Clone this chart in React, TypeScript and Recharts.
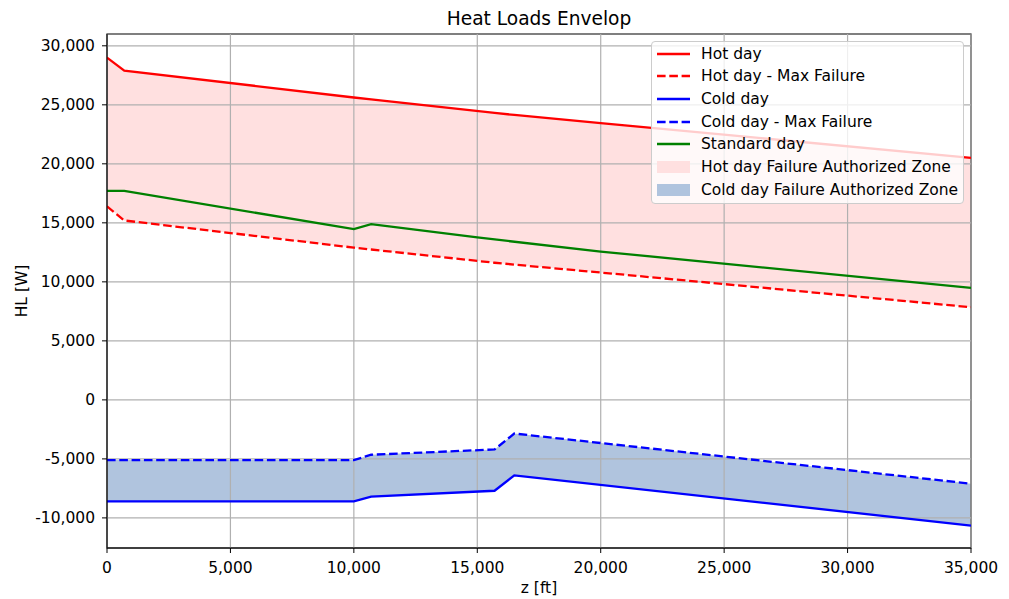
import React from 'react'
import {
  Area,
  ComposedChart,
  Line,
  ReferenceArea,
  ReferenceLine,
  XAxis,
  YAxis,
} from 'recharts'

// altitude breakpoints [ft] and heat loads [W] per envelope
const hotZ = [0, 700, 10000, 10700, 15700, 16500, 20000, 35000]
const hotDay = [29000, 27900, 25620, 25460, 24310, 24140, 23450, 20500]
const hotDayMaxFailure = [16400, 15200, 12900, 12740, 11620, 11460, 10790, 7850]

const coldZ = [0, 10000, 10700, 15700, 16500, 35000]
const coldDay = [-8600, -8600, -8200, -7700, -6400, -10650]
const coldDayMaxFailure = [-5100, -5100, -4650, -4200, -2850, -7100]

const standardZ = [0, 700, 10000, 10700, 15000, 20000, 35000]
const standardDay = [17700, 17700, 14470, 14890, 13760, 12570, 9490]

const xTicks = [0, 5000, 10000, 15000, 20000, 25000, 30000, 35000]
const yTicks = [-10000, -5000, 0, 5000, 10000, 15000, 20000, 25000, 30000]
const xDomain: [number, number] = [0, 35000]
const yDomain: [number, number] = [-12550, 31000]

const hotData = hotZ.map((z, i) => ({ z, hot: hotDay[i], hotMax: hotDayMaxFailure[i] }))
const coldData = coldZ.map((z, i) => ({ z, cold: coldDay[i], coldMax: coldDayMaxFailure[i] }))
const standardData = standardZ.map((z, i) => ({ z, std: standardDay[i] }))

const FONT = '"DejaVu Sans", sans-serif'
const FS = 15.5
const LW = 2.3
const DASH = '8.6 3.7'
const HOT_FILL = '#ffe0e0'
const COLD_FILL = '#b0c4de'

const legendItems = [
  { label: 'Hot day', color: '#ff0000', kind: 'line' },
  { label: 'Hot day - Max Failure', color: '#ff0000', kind: 'dash' },
  { label: 'Cold day', color: '#0000ff', kind: 'line' },
  { label: 'Cold day - Max Failure', color: '#0000ff', kind: 'dash' },
  { label: 'Standard day', color: '#008000', kind: 'line' },
  { label: 'Hot day Failure Authorized Zone', color: HOT_FILL, kind: 'patch' },
  { label: 'Cold day Failure Authorized Zone', color: COLD_FILL, kind: 'patch' },
]

const fmt = (v: number) => v.toLocaleString('en-US')

function ChartLegend() {
  return (
    <div
      style={{
        position: 'absolute',
        left: 651,
        top: 41,
        width: 313,
        height: 163,
        background: 'rgba(255,255,255,0.8)',
        border: '1px solid #cccccc',
        borderRadius: 4,
        boxSizing: 'border-box',
        fontFamily: FONT,
        fontSize: FS,
        color: '#000',
      }}
    >
      {legendItems.map((item, i) => (
        <div
          key={item.label}
          style={{
            position: 'absolute',
            left: 0,
            top: 0.5 + i * 22.7,
            height: 22,
            display: 'flex',
            alignItems: 'center',
            whiteSpace: 'nowrap',
          }}
        >
          <svg width={34} height={22} style={{ marginLeft: 5, marginRight: 10 }}>
            {item.kind === 'patch' ? (
              <rect x={0} y={5} width={33} height={12} fill={item.color} />
            ) : (
              <line
                x1={0}
                x2={33}
                y1={11}
                y2={11}
                stroke={item.color}
                strokeWidth={LW}
                strokeDasharray={item.kind === 'dash' ? DASH : undefined}
              />
            )}
          </svg>
          <span>{item.label}</span>
        </div>
      ))}
    </div>
  )
}

export default function App(): React.ReactElement {
  return (
    <div style={{ position: 'absolute', left: 0, top: 0, width: 1009, height: 599, background: '#fff' }}>
      <ComposedChart
        width={1009}
        height={599}
        margin={{ top: 34, right: 38, bottom: 21, left: 47 }}
      >
        <XAxis
          type="number"
          dataKey="z"
          domain={xDomain}
          ticks={xTicks}
          tickFormatter={fmt}
          allowDataOverflow
          height={30}
          tickSize={5}
          tickMargin={9}
          axisLine={{ stroke: '#000' }}
          tickLine={{ stroke: '#000' }}
          tick={{ fill: '#000', fontFamily: FONT, fontSize: FS }}
        />
        <YAxis
          type="number"
          domain={yDomain}
          ticks={yTicks}
          tickFormatter={fmt}
          allowDataOverflow
          width={60}
          tickSize={5}
          tickMargin={7}
          axisLine={{ stroke: '#000' }}
          tickLine={{ stroke: '#000' }}
          tick={{ fill: '#000', fontFamily: FONT, fontSize: FS }}
        />
        <Area
          data={hotData}
          dataKey={(d: { hot: number; hotMax: number }) => [d.hotMax, d.hot]}
          type="linear"
          stroke="none"
          fill={HOT_FILL}
          fillOpacity={1}
          isAnimationActive={false}
        />
        <Area
          data={coldData}
          dataKey={(d: { cold: number; coldMax: number }) => [d.cold, d.coldMax]}
          type="linear"
          stroke="none"
          fill={COLD_FILL}
          fillOpacity={1}
          isAnimationActive={false}
        />
        {xTicks.map((t) => (
          <ReferenceLine key={`gx-${t}`} x={t} stroke="#b0b0b0" strokeWidth={1.2} />
        ))}
        {yTicks.map((t) => (
          <ReferenceLine key={`gy-${t}`} y={t} stroke="#b0b0b0" strokeWidth={1.2} />
        ))}
        <Line data={hotData} dataKey="hot" type="linear" stroke="#ff0000" strokeWidth={LW} dot={false} isAnimationActive={false} />
        <Line data={hotData} dataKey="hotMax" type="linear" stroke="#ff0000" strokeWidth={LW} strokeDasharray={DASH} dot={false} isAnimationActive={false} />
        <Line data={coldData} dataKey="cold" type="linear" stroke="#0000ff" strokeWidth={LW} dot={false} isAnimationActive={false} />
        <Line data={coldData} dataKey="coldMax" type="linear" stroke="#0000ff" strokeWidth={LW} strokeDasharray={DASH} dot={false} isAnimationActive={false} />
        <Line data={standardData} dataKey="std" type="linear" stroke="#008000" strokeWidth={LW} dot={false} isAnimationActive={false} />
        <ReferenceArea
          x1={xDomain[0]}
          x2={xDomain[1]}
          y1={yDomain[0]}
          y2={yDomain[1]}
          stroke="#000"
          strokeWidth={1.2}
          fill="none"
          fillOpacity={0}
        />
      </ComposedChart>
      <div style={{ position: 'absolute', left: 107, width: 864, top: 8, textAlign: 'center', fontFamily: FONT, fontSize: 18.6 }}>
        Heat Loads Envelop
      </div>
      <div style={{ position: 'absolute', left: 107, width: 864, top: 579, textAlign: 'center', fontFamily: FONT, fontSize: FS }}>
        z [ft]
      </div>
      <div
        style={{
          position: 'absolute',
          left: 22,
          top: 291,
          transform: 'translate(-50%, -50%) rotate(-90deg)',
          fontFamily: FONT,
          fontSize: FS,
          whiteSpace: 'nowrap',
        }}
      >
        HL [W]
      </div>
      <ChartLegend />
    </div>
  )
}
